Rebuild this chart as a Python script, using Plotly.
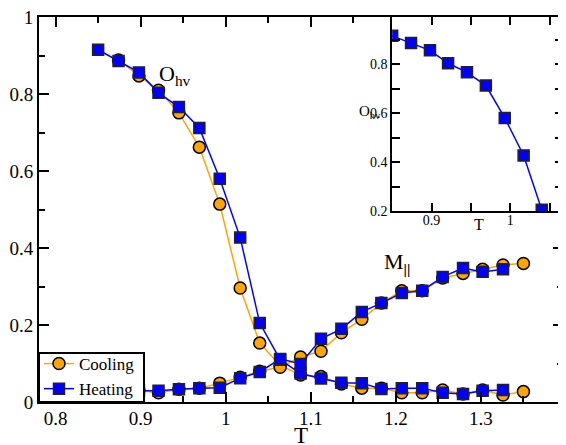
import plotly.graph_objects as go

# ---------------- data ----------------
T_heat = [0.850, 0.874, 0.898, 0.921, 0.945, 0.969, 0.993, 1.017, 1.040, 1.064, 1.088,
          1.112, 1.136, 1.160, 1.183, 1.207, 1.231, 1.255, 1.279, 1.302, 1.326]
T_cool = [0.874, 0.898, 0.921, 0.945, 0.969, 0.993, 1.017, 1.040, 1.064, 1.088, 1.112,
          1.136, 1.160, 1.183, 1.207, 1.231, 1.255, 1.279, 1.302, 1.326, 1.350]

O_heat = [0.915, 0.886, 0.856, 0.803, 0.766, 0.712, 0.580, 0.427, 0.205, 0.110, 0.074,
          0.061, 0.050, 0.049, 0.034, 0.036, 0.036, 0.024, 0.021, 0.029, 0.031]
M_heat = [0.030, 0.030, 0.030, 0.029, 0.033, 0.036, 0.037, 0.062, 0.078, 0.112, 0.099,
          0.164, 0.190, 0.234, 0.257, 0.283, 0.289, 0.325, 0.348, 0.338, 0.345]

O_cool = [0.888, 0.847, 0.810, 0.751, 0.662, 0.514, 0.296, 0.153, 0.095, 0.070, 0.066,
          0.047, 0.036, 0.036, 0.024, 0.024, 0.031, 0.021, 0.031, 0.018, 0.027]
M_cool = [0.030, 0.030, 0.024, 0.033, 0.036, 0.049, 0.064, 0.080, 0.090, 0.117, 0.132,
          0.180, 0.215, 0.257, 0.289, 0.289, 0.322, 0.334, 0.345, 0.356, 0.360]

T_inset = T_heat[:9]
O_inset = O_heat[:9]

x_ticks = [0.8, 0.9, 1.0, 1.1, 1.2, 1.3]
x_ticktext = ["0.8", "0.9", "1", "1.1", "1.2", "1.3"]
y_ticks = [0, 0.2, 0.4, 0.6, 0.8, 1.0]
y_ticktext = ["0", "0.2", "0.4", "0.6", "0.8", "1"]
xi_ticks = [0.9, 1.0]
xi_ticktext = ["0.9", "1"]
yi_ticks = [0.2, 0.4, 0.6, 0.8]
yi_ticktext = ["0.2", "0.4", "0.6", "0.8"]

# ---------------- styles ----------------
ORANGE = "#FFA500"
BLUE = "#0000FF"
FONT = "Times New Roman, Liberation Serif, serif"

cool_marker = dict(symbol="circle", size=12, color=ORANGE, line=dict(color="black", width=1.5))
heat_marker = dict(symbol="square", size=11, color=BLUE, line=dict(color="#222222", width=1.5))

fig = go.Figure()

fig.add_trace(go.Scatter(x=T_cool, y=O_cool, mode="lines+markers", name="Cooling",
                         line=dict(color=ORANGE, width=1.5), marker=cool_marker,
                         legendgroup="c", showlegend=True))
fig.add_trace(go.Scatter(x=T_cool, y=M_cool, mode="lines+markers", name="Cooling",
                         line=dict(color=ORANGE, width=1.5), marker=cool_marker,
                         legendgroup="c", showlegend=False))
fig.add_trace(go.Scatter(x=T_heat, y=O_heat, mode="lines+markers", name="Heating",
                         line=dict(color=BLUE, width=1.5), marker=heat_marker,
                         legendgroup="h", showlegend=True))
fig.add_trace(go.Scatter(x=T_heat, y=M_heat, mode="lines+markers", name="Heating",
                         line=dict(color=BLUE, width=1.5), marker=heat_marker,
                         legendgroup="h", showlegend=False))

fig.add_trace(go.Scatter(x=T_inset, y=O_inset, mode="lines+markers", xaxis="x2", yaxis="y2",
                         line=dict(color=BLUE, width=1.5), marker=heat_marker,
                         showlegend=False))

axis_common = dict(showgrid=False, zeroline=False, showline=True, linecolor="black",
                   linewidth=2, ticks="inside", tickcolor="black", tickwidth=1.5,
                   mirror="allticks", automargin=False, ticklabeloverflow="allow")

# the page body has an 8px margin, so the figure is 8px smaller than the window
fig.update_layout(
    width=558, height=437,
    margin=dict(l=31, r=3, t=9, b=43, autoexpand=False),
    paper_bgcolor="white", plot_bgcolor="white",
    font=dict(family=FONT, color="black", size=18),
    xaxis=dict(**axis_common, range=[0.7805, 1.3965], domain=[0, 1],
               tickvals=x_ticks, ticktext=x_ticktext, ticklen=10,
               tickfont=dict(family=FONT, size=19), ticklabelstandoff=-2,
               minor=dict(ticks="inside", dtick=0.05, tick0=0.8, ticklen=6,
                          tickcolor="black", tickwidth=1.5)),
    yaxis=dict(**axis_common, range=[0, 1], domain=[0, 1],
               tickvals=y_ticks, ticktext=y_ticktext, ticklen=10,
               tickfont=dict(family=FONT, size=19),
               minor=dict(ticks="inside", dtick=0.1, tick0=0, ticklen=6,
                          tickcolor="black", tickwidth=1.5)),
    xaxis2=dict(**axis_common, anchor="y2", domain=[0.674, 1.0], range=[0.85, 1.067],
                tickvals=xi_ticks, ticktext=xi_ticktext, ticklen=8,
                tickfont=dict(family=FONT, size=14), ticklabelstandoff=-5,
                minor=dict(ticks="inside", dtick=0.05, tick0=0.85, ticklen=8,
                           tickcolor="black", tickwidth=1.5)),
    yaxis2=dict(**axis_common, anchor="x2", domain=[0.496, 1.0], range=[0.2, 0.992],
                tickvals=yi_ticks, ticktext=yi_ticktext, ticklen=8,
                tickfont=dict(family=FONT, size=14),
                minor=dict(ticks="inside", dtick=0.1, tick0=0.2, ticklen=8,
                           tickcolor="black", tickwidth=1.5)),
    legend=dict(x=0.0, y=-0.013, xanchor="left", yanchor="bottom",
                bgcolor="rgba(0,0,0,0)", borderwidth=0,
                font=dict(family=FONT, size=17), tracegroupgap=0),
    showlegend=True,
)

# legend frame
fig.add_shape(type="rect", xref="paper", yref="paper", layer="above",
              x0=0.0, x1=105 / 524, y0=0.0, y1=49 / 385,
              line=dict(color="black", width=2), fillcolor="white")

fig.add_annotation(x=0.5, y=0, xref="paper", yref="paper", text="T", yanchor="top",
                   yshift=-19, showarrow=False, font=dict(family=FONT, size=23))
fig.add_annotation(x=0.919, y=0.85, xref="x", yref="y", text="O<sub>hv</sub>",
                   showarrow=False, font=dict(family=FONT, size=22), xanchor="left")
fig.add_annotation(x=1.184, y=0.36, xref="x", yref="y", text="M<sub><b>||</b></sub>",
                   showarrow=False, font=dict(family=FONT, size=22), xanchor="left")
fig.add_annotation(x=(357 - 39) / 524, y=(402 - 112) / 385, xref="paper", yref="paper",
                   text="O<sub>hv</sub>", showarrow=False,
                   font=dict(family=FONT, size=15), xanchor="left", yanchor="middle")
fig.add_annotation(x=0.96, y=0.2, xref="x2", yref="y2", text="T", yshift=-13,
                   showarrow=False, font=dict(family=FONT, size=16))

fig.write_html("out.html")
